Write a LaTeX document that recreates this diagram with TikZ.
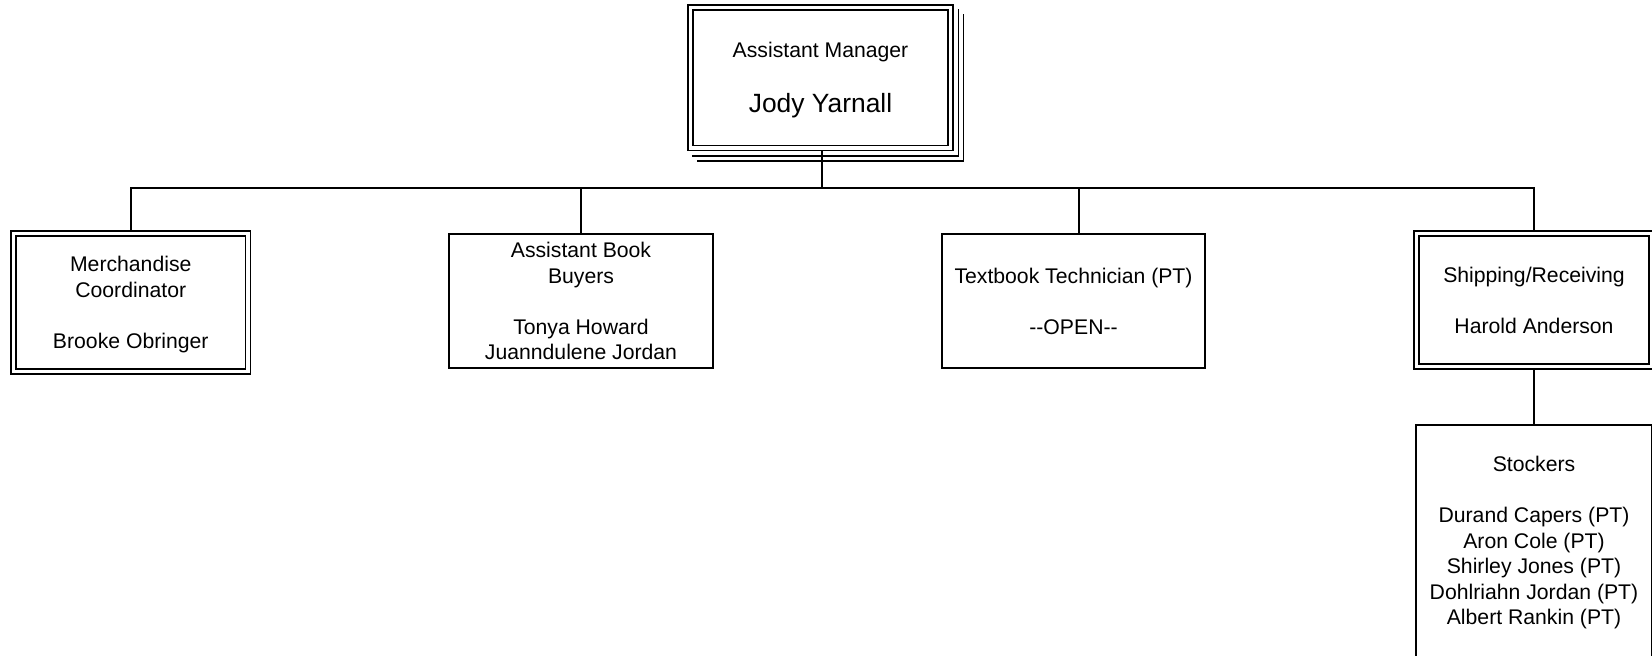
\documentclass[tikz,border=0pt]{standalone}
\usepackage{fontspec}
\setmainfont{Liberation Sans}[Ligatures=TeXOff]
\begin{document}
\begin{tikzpicture}[x=0.5pt,y=-0.5pt,
  box/.style={draw,line width=0.8pt,rectangle,inner sep=0pt,align=center,
    font=\fontsize{10.6}{12.75}\selectfont},
  dbox/.style={box,line width=0.7pt,double,double distance=1.8pt},
  link/.style={line width=0.8pt},
  shadowline/.style={line width=0.7pt}]
\useasboundingbox (0,0) rectangle (1652,656);
\fill[white] (0,0) rectangle (1652,656);
\clip (0,0) rectangle (1652,656);

% top box
\node[dbox,minimum width=130pt,minimum height=70.25pt] (top) at (820.5,77.75)
  {\rule{0pt}{9.9pt}Assistant Manager\\[14.75pt]{\fontsize{13.2}{15.84}\selectfont Jody Yarnall}};
\draw[shadowline] ([xshift=1.25pt,yshift=-3.75pt]top.south west)
  -- ([xshift=3.75pt,yshift=-3.75pt]top.south east)
  -- ([xshift=3.75pt,yshift=-1.25pt]top.north east);
\draw[shadowline] ([xshift=3.75pt,yshift=-6.25pt]top.south west)
  -- ([xshift=6.25pt,yshift=-6.25pt]top.south east)
  -- ([xshift=6.25pt,yshift=-3.75pt]top.north east);

% second level
\node[dbox,minimum width=117.25pt,minimum height=69pt] (merch) at (130.75,302.5)
  {\rule{0pt}{9.9pt}Merchandise\\Coordinator\\[12.75pt]Brooke Obringer};
\node[box,minimum width=132pt,minimum height=67pt] (buyers) at (581,301)
  {Assistant Book\\Buyers\\[12.75pt]Tonya Howard\\Juanndulene Jordan};
\node[box,minimum width=131.5pt,minimum height=67pt] (tb) at (1073.5,301)
  {Textbook Technician (PT)\\[12.75pt]--OPEN--};
\node[dbox,minimum width=117.5pt,minimum height=66.5pt] (ship) at (1534,300)
  {Shipping/Receiving\\[12.75pt]Harold Anderson};

% third level
\node[box,minimum width=118pt,minimum height=118pt] (stock) at (1534,543)
  {Stockers\\[12.75pt]Durand Capers (PT)\\Aron Cole (PT)\\Shirley Jones (PT)\\Dohlriahn Jordan (PT)\\Albert Rankin (PT)};

% connectors
\coordinate (bus) at (822,188);
\coordinate (toplow) at ([xshift=0.75pt,yshift=-1.25pt]top.south);
\coordinate (merchtop) at ([yshift=1.25pt]merch.north);
\coordinate (shiptop) at ([yshift=1.25pt]ship.north);
\coordinate (shiplow) at ([yshift=-1.25pt]ship.south);
\coordinate (tbtop) at ([xshift=2.75pt]tb.north);
\draw[link] (toplow) -- (bus);
\draw[link] (merchtop) |- (bus) -| (shiptop);
\draw[link] (buyers.north) -- (buyers.north |- bus);
\draw[link] (tbtop) -- (tbtop |- bus);
\draw[link] (shiplow) -- (stock.north);
\end{tikzpicture}
\end{document}
